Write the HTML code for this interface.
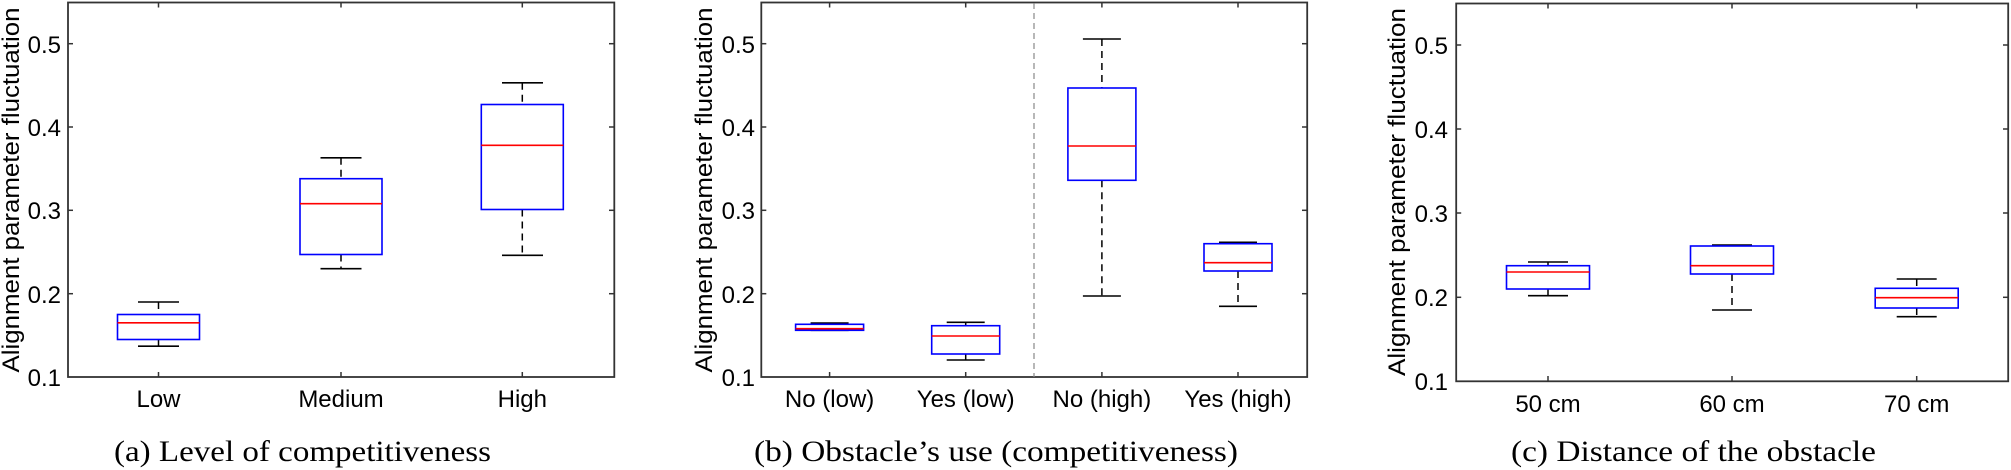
<!DOCTYPE html>
<html><head><meta charset="utf-8"><style>
html,body{margin:0;padding:0;background:#fff;}
svg{display:block;}
.t{font-family:"Liberation Sans",Arial,sans-serif;font-size:24px;fill:#000;}
.c{font-family:"Liberation Serif","Times New Roman",serif;font-size:30px;fill:#000;}
.ax{fill:none;stroke:#333;stroke-width:1.8;}
.tk{stroke:#333;stroke-width:1.5;}
.bx{fill:none;stroke:#0000ff;stroke-width:1.6;}
.md{stroke:#ff0000;stroke-width:1.6;}
.wd{stroke:#000;stroke-width:1.5;stroke-dasharray:7,5;}
.cp{stroke:#000;stroke-width:1.6;}
</style></head><body>
<svg width="2011" height="470" viewBox="0 0 2011 470" xmlns="http://www.w3.org/2000/svg">
<!-- Panel a -->
<rect class="ax" x="68" y="2.5" width="546.3" height="374.5"/>
<g class="tk">
<line x1="68" y1="43.7" x2="73" y2="43.7"/><line x1="68" y1="127" x2="73" y2="127"/><line x1="68" y1="210.3" x2="73" y2="210.3"/><line x1="68" y1="293.7" x2="73" y2="293.7"/>
<line x1="609" y1="43.7" x2="614" y2="43.7"/><line x1="609" y1="127" x2="614" y2="127"/><line x1="609" y1="210.3" x2="614" y2="210.3"/><line x1="609" y1="293.7" x2="614" y2="293.7"/>
<line x1="158.5" y1="377" x2="158.5" y2="372"/><line x1="341" y1="377" x2="341" y2="372"/><line x1="522.3" y1="377" x2="522.3" y2="372"/>
<line x1="158.5" y1="2.5" x2="158.5" y2="7.5"/><line x1="341" y1="2.5" x2="341" y2="7.5"/><line x1="522.3" y1="2.5" x2="522.3" y2="7.5"/>
</g>
<g class="t" text-anchor="end">
<text x="61" y="53">0.5</text><text x="61" y="136">0.4</text><text x="61" y="219">0.3</text><text x="61" y="303">0.2</text><text x="61" y="386">0.1</text>
</g>
<text class="t" transform="translate(19,190) rotate(-90)" text-anchor="middle" textLength="365" lengthAdjust="spacingAndGlyphs">Alignment parameter fluctuation</text>
<g class="t" text-anchor="middle"><text x="158.5" y="407">Low</text><text x="341" y="407">Medium</text><text x="522.3" y="407">High</text></g>
<text class="c" x="114" y="461" textLength="377" lengthAdjust="spacingAndGlyphs">(a)  Level of competitiveness</text>
<!-- a boxes -->
<line class="wd" x1="158.5" y1="302" x2="158.5" y2="314.5"/><line class="wd" x1="158.5" y1="339.5" x2="158.5" y2="346.2"/>
<line class="cp" x1="138" y1="302" x2="179" y2="302"/><line class="cp" x1="138" y1="346.2" x2="179" y2="346.2"/>
<rect class="bx" x="117.5" y="314.5" width="82" height="25"/><line class="md" x1="117.5" y1="322.8" x2="199.5" y2="322.8"/>
<line class="wd" x1="341" y1="157.8" x2="341" y2="178.7"/><line class="wd" x1="341" y1="254.5" x2="341" y2="268.7"/>
<line class="cp" x1="320.5" y1="157.8" x2="361.5" y2="157.8"/><line class="cp" x1="320.5" y1="268.7" x2="361.5" y2="268.7"/>
<rect class="bx" x="300" y="178.7" width="82" height="75.8"/><line class="md" x1="300" y1="203.7" x2="382" y2="203.7"/>
<line class="wd" x1="522.3" y1="82.8" x2="522.3" y2="104.5"/><line class="wd" x1="522.3" y1="209.5" x2="522.3" y2="255.3"/>
<line class="cp" x1="502" y1="82.8" x2="543" y2="82.8"/><line class="cp" x1="502" y1="255.3" x2="543" y2="255.3"/>
<rect class="bx" x="481.3" y="104.5" width="82" height="105"/><line class="md" x1="481.3" y1="145.3" x2="563.3" y2="145.3"/>

<!-- Panel b -->
<rect class="ax" x="761.3" y="2.5" width="545.9" height="374.5"/>
<g class="tk">
<line x1="761.3" y1="43.7" x2="766.3" y2="43.7"/><line x1="761.3" y1="127" x2="766.3" y2="127"/><line x1="761.3" y1="210.3" x2="766.3" y2="210.3"/><line x1="761.3" y1="293.7" x2="766.3" y2="293.7"/>
<line x1="1302" y1="43.7" x2="1307" y2="43.7"/><line x1="1302" y1="127" x2="1307" y2="127"/><line x1="1302" y1="210.3" x2="1307" y2="210.3"/><line x1="1302" y1="293.7" x2="1307" y2="293.7"/>
<line x1="829.6" y1="377" x2="829.6" y2="372"/><line x1="965.7" y1="377" x2="965.7" y2="372"/><line x1="1101.9" y1="377" x2="1101.9" y2="372"/><line x1="1238" y1="377" x2="1238" y2="372"/>
<line x1="829.6" y1="2.5" x2="829.6" y2="7.5"/><line x1="965.7" y1="2.5" x2="965.7" y2="7.5"/><line x1="1101.9" y1="2.5" x2="1101.9" y2="7.5"/><line x1="1238" y1="2.5" x2="1238" y2="7.5"/>
</g>
<line x1="1034" y1="3" x2="1034" y2="377" stroke="#888" stroke-width="1.2" stroke-dasharray="6,4"/>
<g class="t" text-anchor="end">
<text x="755" y="53">0.5</text><text x="755" y="136">0.4</text><text x="755" y="219">0.3</text><text x="755" y="303">0.2</text><text x="755" y="386">0.1</text>
</g>
<text class="t" transform="translate(712,190) rotate(-90)" text-anchor="middle" textLength="365" lengthAdjust="spacingAndGlyphs">Alignment parameter fluctuation</text>
<g class="t" text-anchor="middle"><text x="829.6" y="407">No (low)</text><text x="965.7" y="407">Yes (low)</text><text x="1101.9" y="407">No (high)</text><text x="1238" y="407">Yes (high)</text></g>
<text class="c" x="754" y="461" textLength="484" lengthAdjust="spacingAndGlyphs">(b)  Obstacle’s use (competitiveness)</text>
<!-- b boxes -->
<line class="cp" x1="810.6" y1="323" x2="848.6" y2="323"/><line class="cp" x1="810.6" y1="330.3" x2="848.6" y2="330.3"/>
<rect class="bx" x="795.6" y="324.3" width="68" height="6"/><line class="md" x1="795.6" y1="328.7" x2="863.6" y2="328.7"/>
<line class="wd" x1="965.7" y1="322.3" x2="965.7" y2="325.7"/><line class="wd" x1="965.7" y1="354" x2="965.7" y2="360"/>
<line class="cp" x1="946.7" y1="322.3" x2="984.7" y2="322.3"/><line class="cp" x1="946.7" y1="360" x2="984.7" y2="360"/>
<rect class="bx" x="931.7" y="325.7" width="68" height="28.3"/><line class="md" x1="931.7" y1="336" x2="999.7" y2="336"/>
<line class="wd" x1="1101.9" y1="39" x2="1101.9" y2="88"/><line class="wd" x1="1101.9" y1="180.3" x2="1101.9" y2="296"/>
<line class="cp" x1="1082.9" y1="39" x2="1120.9" y2="39"/><line class="cp" x1="1082.9" y1="296" x2="1120.9" y2="296"/>
<rect class="bx" x="1067.9" y="88" width="68" height="92.3"/><line class="md" x1="1067.9" y1="146" x2="1135.9" y2="146"/>
<line class="wd" x1="1238" y1="271" x2="1238" y2="306.3"/>
<line class="cp" x1="1219" y1="242.3" x2="1257" y2="242.3"/><line class="cp" x1="1219" y1="306.3" x2="1257" y2="306.3"/>
<rect class="bx" x="1204" y="243.7" width="68" height="27.3"/><line class="md" x1="1204" y1="262.7" x2="1272" y2="262.7"/>

<!-- Panel c -->
<rect class="ax" x="1456.2" y="3.5" width="552" height="377.8"/>
<g class="tk">
<line x1="1456.2" y1="45" x2="1461.2" y2="45"/><line x1="1456.2" y1="129" x2="1461.2" y2="129"/><line x1="1456.2" y1="213" x2="1461.2" y2="213"/><line x1="1456.2" y1="297.3" x2="1461.2" y2="297.3"/>
<line x1="2003" y1="45" x2="2008" y2="45"/><line x1="2003" y1="129" x2="2008" y2="129"/><line x1="2003" y1="213" x2="2008" y2="213"/><line x1="2003" y1="297.3" x2="2008" y2="297.3"/>
<line x1="1548" y1="381.3" x2="1548" y2="376"/><line x1="1732" y1="381.3" x2="1732" y2="376"/><line x1="1916.7" y1="381.3" x2="1916.7" y2="376"/>
<line x1="1548" y1="3.5" x2="1548" y2="8.5"/><line x1="1732" y1="3.5" x2="1732" y2="8.5"/><line x1="1916.7" y1="3.5" x2="1916.7" y2="8.5"/>
</g>
<g class="t" text-anchor="end">
<text x="1448" y="54">0.5</text><text x="1448" y="138">0.4</text><text x="1448" y="222">0.3</text><text x="1448" y="306">0.2</text><text x="1448" y="390">0.1</text>
</g>
<text class="t" transform="translate(1405,192) rotate(-90)" text-anchor="middle" textLength="368" lengthAdjust="spacingAndGlyphs">Alignment parameter fluctuation</text>
<g class="t" text-anchor="middle"><text x="1548" y="412">50 cm</text><text x="1732" y="412">60 cm</text><text x="1916.7" y="412">70 cm</text></g>
<text class="c" x="1511" y="461" textLength="365" lengthAdjust="spacingAndGlyphs">(c)  Distance of the obstacle</text>
<!-- c boxes -->
<line class="wd" x1="1548" y1="262" x2="1548" y2="265.7"/><line class="wd" x1="1548" y1="289" x2="1548" y2="295.7"/>
<line class="cp" x1="1528" y1="262" x2="1568" y2="262"/><line class="cp" x1="1528" y1="295.7" x2="1568" y2="295.7"/>
<rect class="bx" x="1506.5" y="265.7" width="83" height="23.3"/><line class="md" x1="1506.5" y1="272" x2="1589.5" y2="272"/>
<line class="wd" x1="1732" y1="274" x2="1732" y2="310"/>
<line class="cp" x1="1712" y1="245" x2="1752" y2="245"/><line class="cp" x1="1712" y1="310" x2="1752" y2="310"/>
<rect class="bx" x="1690.5" y="246" width="83" height="28"/><line class="md" x1="1690.5" y1="265.7" x2="1773.5" y2="265.7"/>
<line class="wd" x1="1916.7" y1="279" x2="1916.7" y2="288.3"/><line class="wd" x1="1916.7" y1="308" x2="1916.7" y2="316.7"/>
<line class="cp" x1="1896.7" y1="279" x2="1936.7" y2="279"/><line class="cp" x1="1896.7" y1="316.7" x2="1936.7" y2="316.7"/>
<rect class="bx" x="1875.2" y="288.3" width="83" height="19.7"/><line class="md" x1="1875.2" y1="297.7" x2="1958.2" y2="297.7"/>
</svg>
</body></html>
